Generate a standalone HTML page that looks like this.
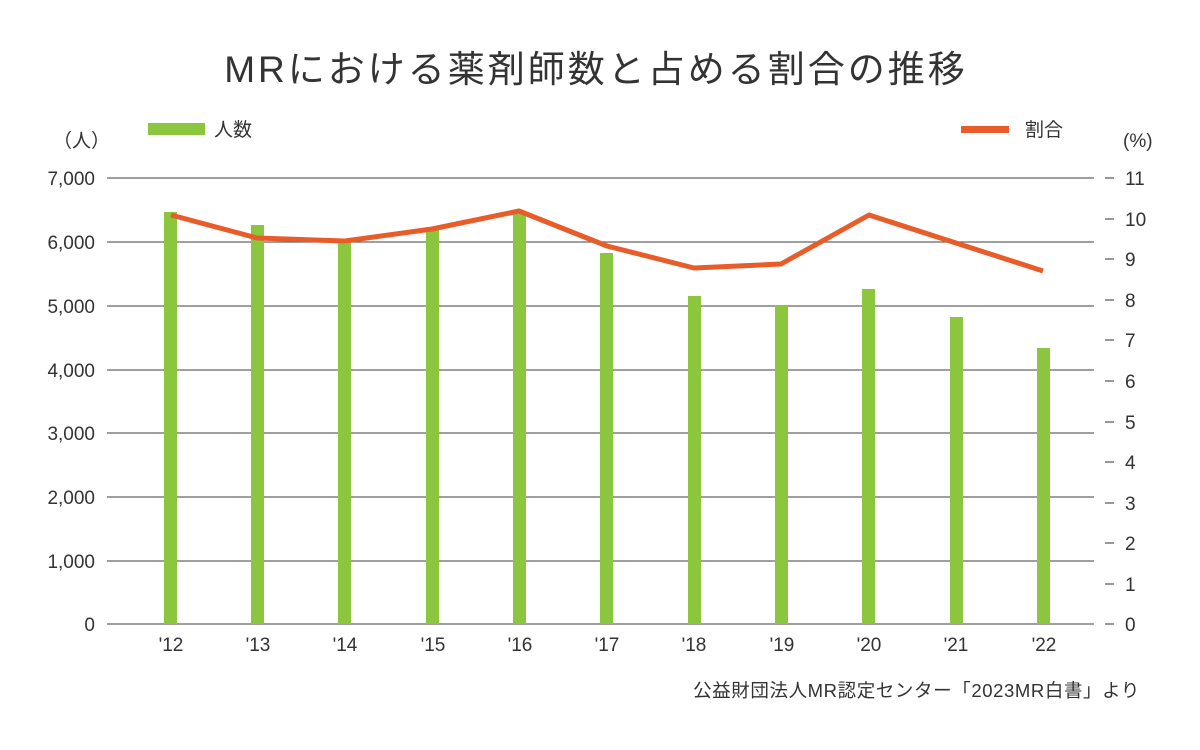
<!DOCTYPE html>
<html><head><meta charset="utf-8"><style>
html,body{margin:0;padding:0;background:#fff;}
svg{display:block;font-family:"Liberation Sans","Noto Sans CJK JP",sans-serif;fill:#333;}
</style></head><body>
<svg width="1200" height="750" viewBox="0 0 1200 750">
<text x="596" y="82" font-size="37" letter-spacing="3" text-anchor="middle" fill="#333">MRにおける薬剤師数と占める割合の推移</text>
<rect x="148" y="123" width="57" height="12" fill="#8cc63f"/>
<text x="214" y="136" font-size="19">人数</text>
<rect x="961" y="126" width="48" height="7" fill="#e85c2a"/>
<text x="1025" y="136" font-size="19">割合</text>
<text x="53" y="147" font-size="19">（人）</text>
<text x="1123" y="147" font-size="19">(%)</text>
<g stroke="#666" stroke-width="1.2">
<line x1="107" x2="1094" y1="178" y2="178"/><line x1="107" x2="1094" y1="242" y2="242"/>
<line x1="107" x2="1094" y1="306" y2="306"/><line x1="107" x2="1094" y1="370" y2="370"/>
<line x1="107" x2="1094" y1="433" y2="433"/><line x1="107" x2="1094" y1="497" y2="497"/>
<line x1="107" x2="1094" y1="561" y2="561"/><line x1="107" x2="1094" y1="624" y2="624"/>
</g>
<g font-size="19" text-anchor="end">
<text x="95" y="185">7,000</text><text x="95" y="249">6,000</text><text x="95" y="313">5,000</text>
<text x="95" y="377">4,000</text><text x="95" y="440">3,000</text><text x="95" y="504">2,000</text>
<text x="95" y="568">1,000</text><text x="95" y="631">0</text>
</g>
<g stroke="#555" stroke-width="1.2">
<line x1="1105" x2="1114" y1="178" y2="178"/><line x1="1105" x2="1114" y1="219" y2="219"/>
<line x1="1105" x2="1114" y1="259" y2="259"/><line x1="1105" x2="1114" y1="300" y2="300"/>
<line x1="1105" x2="1114" y1="340" y2="340"/><line x1="1105" x2="1114" y1="381" y2="381"/>
<line x1="1105" x2="1114" y1="422" y2="422"/><line x1="1105" x2="1114" y1="462" y2="462"/>
<line x1="1105" x2="1114" y1="503" y2="503"/><line x1="1105" x2="1114" y1="543" y2="543"/>
<line x1="1105" x2="1114" y1="584" y2="584"/><line x1="1105" x2="1114" y1="624" y2="624"/>
</g>
<g font-size="19">
<text x="1125" y="185">11</text><text x="1125" y="226">10</text><text x="1125" y="266">9</text>
<text x="1125" y="307">8</text><text x="1125" y="347">7</text><text x="1125" y="388">6</text>
<text x="1125" y="429">5</text><text x="1125" y="469">4</text><text x="1125" y="510">3</text>
<text x="1125" y="550">2</text><text x="1125" y="591">1</text><text x="1125" y="631">0</text>
</g>
<g fill="#8cc63f">
<rect x="164" y="212" width="13" height="412"/>
<rect x="251" y="225" width="13" height="399"/>
<rect x="338" y="241" width="13" height="383"/>
<rect x="426" y="227" width="13" height="397"/>
<rect x="513" y="212" width="13" height="412"/>
<rect x="600" y="253" width="13" height="371"/>
<rect x="688" y="296" width="13" height="328"/>
<rect x="775" y="305" width="13" height="319"/>
<rect x="862" y="289" width="13" height="335"/>
<rect x="950" y="317" width="13" height="307"/>
<rect x="1037" y="348" width="13" height="276"/>
</g>
<polyline fill="none" stroke="#e85c2a" stroke-width="5" stroke-linejoin="round" points="171,215 257,238 345,241 432,229 519,211 607,246 694,268 781,264 869,215 956,243 1043,271"/>
<g font-size="19" text-anchor="middle">
<text x="171" y="651">'12</text><text x="258" y="651">'13</text><text x="345" y="651">'14</text>
<text x="433" y="651">'15</text><text x="520" y="651">'16</text><text x="607" y="651">'17</text>
<text x="694" y="651">'18</text><text x="782" y="651">'19</text><text x="869" y="651">'20</text>
<text x="956" y="651">'21</text><text x="1044" y="651">'22</text>
</g>
<text x="1140" y="697" font-size="18.5" letter-spacing="0.6" text-anchor="end">公益財団法人MR認定センター「2023MR白書」より</text>
</svg>
</body></html>
